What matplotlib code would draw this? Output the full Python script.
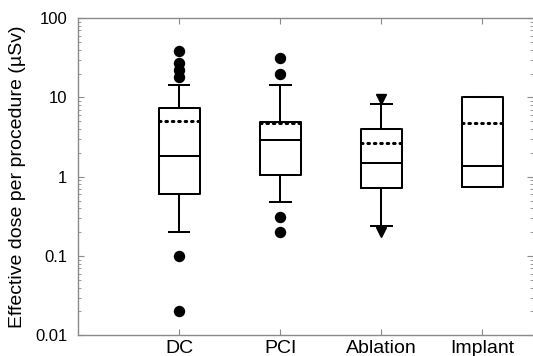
import matplotlib
matplotlib.use("Agg")
import matplotlib.pyplot as plt
from matplotlib.ticker import LogLocator, NullFormatter

plt.rcParams['font.family'] = ['Liberation Sans', 'DejaVu Sans']

# values (µSv, log scale)
groups = ['DC', 'PCI', 'Ablation', 'Implant']
q1 = [0.6, 1.05, 0.72, 0.75]
medians = [1.85, 2.9, 1.5, 1.38]
q3 = [7.3, 4.9, 4.0, 10.0]
means = [5.0, 4.8, 2.7, 4.8]
whisk_lo = [0.2, 0.48, 0.24, 0.75]
whisk_hi = [14.5, 14.5, 8.3, 10.0]
outliers = [[38, 27, 22, 18, 0.1, 0.02],
            [31, 20, 0.31, 0.2],
            [],
            []]
extremes_ablation = [9.7, 0.2]  # triangles

stats = []
for i, g in enumerate(groups):
    stats.append({'label': g, 'q1': q1[i], 'med': medians[i], 'q3': q3[i],
                  'mean': means[i], 'whislo': whisk_lo[i], 'whishi': whisk_hi[i],
                  'fliers': outliers[i]})

fig = plt.figure(figsize=(5.33, 3.56), dpi=100)
ax = fig.add_axes([0.147, 0.058, 0.853, 0.891])

pos = [1, 2, 3, 4]
lw = 1.45
ax.bxp(stats, positions=pos, widths=0.41, showmeans=True, meanline=True,
       capwidths=0.2,
       boxprops=dict(color='black', linewidth=lw),
       medianprops=dict(color='black', linewidth=lw),
       whiskerprops=dict(color='black', linewidth=lw),
       capprops=dict(color='black', linewidth=lw),
       meanprops=dict(color='black', linewidth=2.2, linestyle=(0, (0.5, 1.6)),
                      dash_capstyle='round'),
       flierprops=dict(marker='o', markerfacecolor='black', markeredgecolor='black',
                       markersize=7.2, linestyle='none'))

ax.plot([3, 3], extremes_ablation, linestyle='none', marker='v', color='black',
        markersize=7.5)

ax.set_yscale('log')
ax.set_ylim(0.01, 100)
ax.set_xlim(0, 4.5)
ax.set_yticks([0.01, 0.1, 1, 10, 100])
ax.set_yticklabels(['0.01', '0.1', '1', '10', '100'])
ax.yaxis.set_minor_locator(LogLocator(base=10, subs=range(2, 10)))
ax.yaxis.set_minor_formatter(NullFormatter())
ax.set_xticks(pos)
ax.set_xticklabels(groups)

spine_col = '#8a8a8a'
for s in ['left', 'bottom', 'top']:
    ax.spines[s].set_color(spine_col)
    ax.spines[s].set_linewidth(1.0)
ax.spines['right'].set_visible(False)

ax.tick_params(axis='both', which='both', direction='in', color=spine_col,
               labelcolor='black')
ax.tick_params(axis='y', which='major', length=4, right=True, pad=8, labelsize=12)
ax.tick_params(axis='y', which='minor', length=2, right=True)
ax.tick_params(axis='x', which='major', length=4, top=True, pad=3, labelsize=14)

ax.set_ylabel('Effective dose per procedure (µSv)', fontsize=14)
ax.yaxis.set_label_coords(-0.115, 0.5)

fig.savefig('out.png', dpi=100)
